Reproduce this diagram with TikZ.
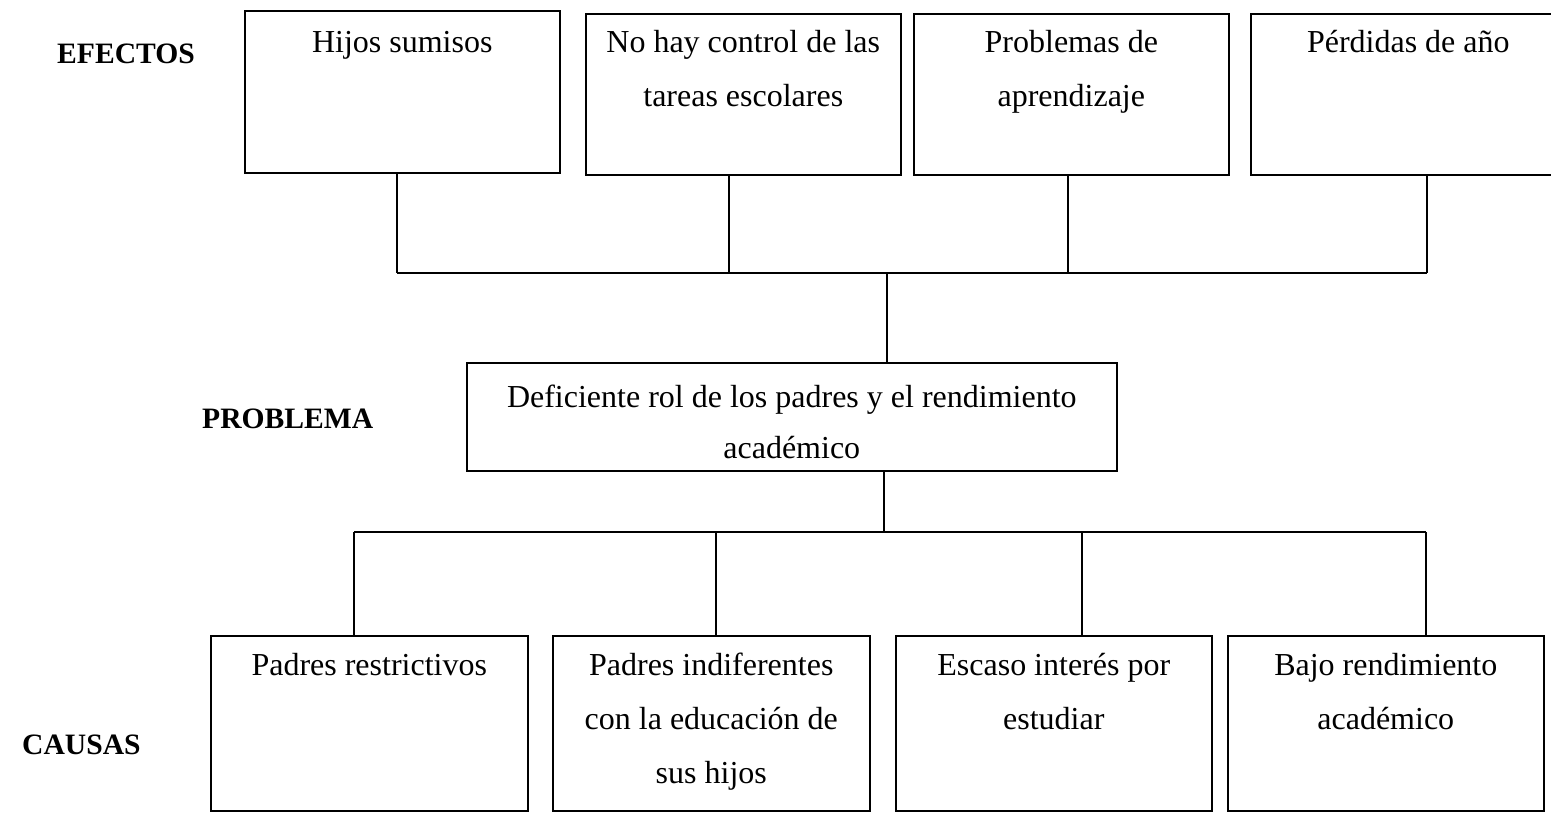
\documentclass[tikz,border=0pt]{standalone}
\usepackage{fontspec}
\setmainfont{Liberation Serif}
\usetikzlibrary{positioning}

\begin{document}
\begin{tikzpicture}[x=1pt,y=-1pt]
  \tikzstyle{box} = [draw, rectangle, line width=1.6pt, inner sep=0pt, anchor=north west, minimum width=315pt]
  \tikzstyle{txt} = [inner sep=0pt, anchor=north, text width=310pt, align=flush center, font=\fontsize{32}{54}\selectfont, execute at begin node=\strut]
  \tikzstyle{tag} = [inner sep=0pt, anchor=base west, font=\fontsize{29.6}{36}\selectfont\bfseries]
  \tikzstyle{link} = [draw, line width=1.1pt]

  \useasboundingbox (0,0) rectangle (1551,812);

  % efectos
  \node [tag] (efectos) at (57,63) {EFECTOS};
  \node [box, minimum height=162pt] (e1) at (244,10) {};
  \node [box, minimum height=161pt] (e2) at (585,13) {};
  \node [box, minimum height=161pt] (e3) at (913,13) {};
  \node [box, minimum height=161pt] (e4) at (1250,13) {};
  \node [txt, yshift=-4pt] (e1t) at (e1.north) {Hijos sumisos};
  \node [txt, yshift=-1pt] (e2t) at (e2.north) {No hay control de las\\tareas escolares};
  \node [txt, yshift=-1pt] (e3t) at (e3.north) {Problemas de\\aprendizaje};
  \node [txt, yshift=-1pt] (e4t) at (e4.north) {Pérdidas de año};

  % problema
  \node [tag] (problema) at (202,428) {PROBLEMA};
  \node [box, minimum width=650pt, minimum height=108pt] (prob) at (466,362) {};
  \node [txt, text width=640pt, yshift=-10pt, font=\fontsize{32}{51}\selectfont] (probt) at (prob.north) {Deficiente rol de los padres y el rendimiento\\académico};

  % causas
  \node [tag] (causas) at (22,754) {CAUSAS};
  \node [box, minimum width=317pt, minimum height=175pt] (c1) at (210,635) {};
  \node [box, minimum width=317pt, minimum height=175pt] (c2) at (552,635) {};
  \node [box, minimum width=316pt, minimum height=175pt] (c3) at (895,635) {};
  \node [box, minimum width=316pt, minimum height=175pt] (c4) at (1227,635) {};
  \node [txt, yshift=-2pt] (c1t) at (c1.north) {Padres restrictivos};
  \node [txt, yshift=-2pt] (c2t) at (c2.north) {Padres indiferentes\\con la educación de\\sus hijos};
  \node [txt, yshift=-2pt] (c3t) at (c3.north) {Escaso interés por\\estudiar};
  \node [txt, yshift=-2pt] (c4t) at (c4.north) {Bajo rendimiento\\académico};

  % lineas
  \coordinate (te1) at (397,273);
  \coordinate (te2) at (729,273);
  \coordinate (te3) at (1068,273);
  \coordinate (te4) at (1427,273);
  \coordinate (tmid) at (887,273);
  \foreach \n in {1,...,4}
    \draw [link] (e\n.south -| te\n) -- (te\n);
  \draw [link] (te1) -- (te4);
  \draw [link] (tmid) -- (tmid |- prob.north);

  \coordinate (tc1) at (354,532);
  \coordinate (tc2) at (716,532);
  \coordinate (tc3) at (1082,532);
  \coordinate (tc4) at (1426,532);
  \coordinate (bmid) at (884,532);
  \draw [link] (prob.south -| bmid) -- (bmid);
  \draw [link] (tc1) -- (tc4);
  \foreach \n in {1,...,4}
    \draw [link] (tc\n) -- (tc\n |- c\n.north);
\end{tikzpicture}
\end{document}
